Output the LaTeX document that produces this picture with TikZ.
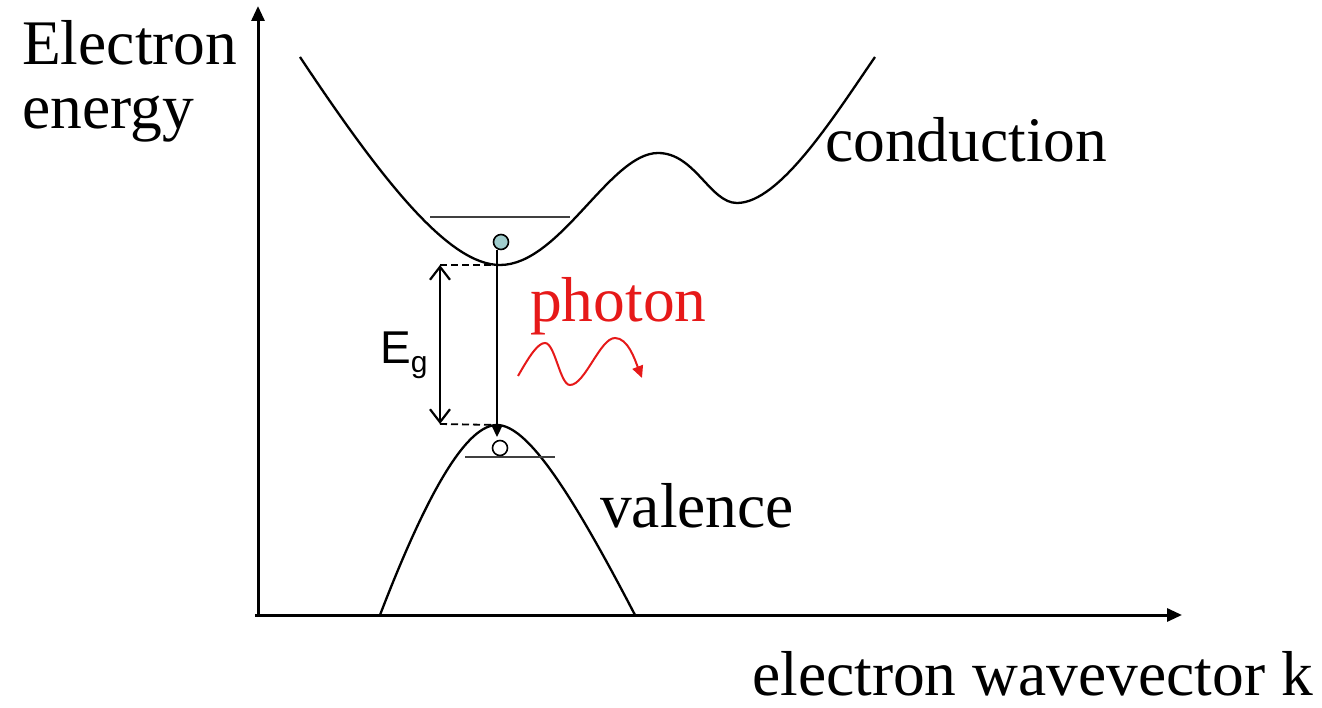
\documentclass[tikz,border=0pt]{standalone}
\usepackage{fontspec}
\setmainfont{Liberation Serif}
\newfontfamily\arialfont{Liberation Sans}
\usetikzlibrary{arrows.meta}
\definecolor{phred}{RGB}{230,25,25}
\definecolor{elfill}{RGB}{160,205,205}
\begin{document}
\begin{tikzpicture}[x=1pt,y=-1pt,
  curve/.style={line width=2.3pt,black},
  axis/.style={line width=3pt,-{Triangle[length=15pt,width=13pt]}},
  lab/.style={anchor=base west,inner sep=0pt,font=\fontsize{63.5}{63.5}\selectfont},
  gapdash/.style={line width=1.8pt,dash pattern=on 7pt off 4pt},
  level/.style={line width=2.2pt,black!75}]
\useasboundingbox (0,0) rectangle (1322,708);
% axes
\coordinate (origin) at (258,615);
\coordinate (ytip) at (258,6);
\coordinate (xtip) at (1182,615);
\draw[axis] (258,617) -- (ytip);
\draw[axis] (255,615) -- (xtip);
% conduction band
\draw[curve] (300,57) .. controls (385,185) and (450,265) .. (500,265)
  .. controls (560,265) and (610,153) .. (658,153)
  .. controls (695,153) and (710,203) .. (737,203)
  .. controls (780,203) and (835,115) .. (875,57);
% valence band
\draw[curve] (380,615) .. controls (430,485) and (468,425) .. (497,425)
  .. controls (527,425) and (570,490) .. (635,615);
% levels
\coordinate (cl1) at (430,217); \coordinate (cl2) at (570,217);
\draw[level] (cl1) -- (cl2);
\coordinate (vl1) at (465,457); \coordinate (vl2) at (555,457);
\draw[level] (vl1) -- (vl2);
% dashed gap lines
\coordinate (cmin) at (500,265); \coordinate (vmax) at (497,425);
\coordinate (gtop) at (440,265); \coordinate (gbot) at (440,424);
\draw[gapdash] (gtop) -- (cmin);
\draw[gapdash] (gbot) -- (vmax);
\draw[line width=2.2pt,{Straight Barb[length=13pt,width=20pt]}-{Straight Barb[length=13pt,width=20pt]}] (gtop) -- (gbot);
\node[anchor=base west,inner sep=0pt,font=\arialfont\fontsize{46}{46}\selectfont] (eg) at (380,363) {E\raisebox{-9pt}{\fontsize{30}{30}\selectfont g}};
% electron and hole
\node[circle,draw,line width=1.6pt,fill=elfill,minimum size=15pt,inner sep=0pt] (el) at (501,242) {};
\coordinate (atip) at (497,437);
\draw[line width=2.2pt,-{Triangle[length=12pt,width=11pt]}] (el.south -| atip) -- (atip);
\node[circle,draw,line width=1.6pt,fill=white,minimum size=15pt,inner sep=0pt] (hole) at (500,448) {};
% photon
\node[lab,text=phred] (ph) at (530,322) {photon};
\draw[line width=2pt,phred,-{Triangle[length=12pt,width=11pt]}]
  (518,376) .. controls (530,355) and (538,343) .. (545,343)
  .. controls (555,343) and (560,385) .. (570,385)
  .. controls (585,385) and (600,338) .. (615,338)
  .. controls (628,338) and (635,360) .. (642,378);
% labels
\node[lab] (t1) at (22,65) {Electron};
\node[lab] (t2) at (22,129) {energy};
\node[lab] (cond) at (825,162) {conduction};
\node[lab] (val) at (600,527) {valence};
\node[lab] (xl) at (752,695) {electron wavevector k};
\end{tikzpicture}
\end{document}
